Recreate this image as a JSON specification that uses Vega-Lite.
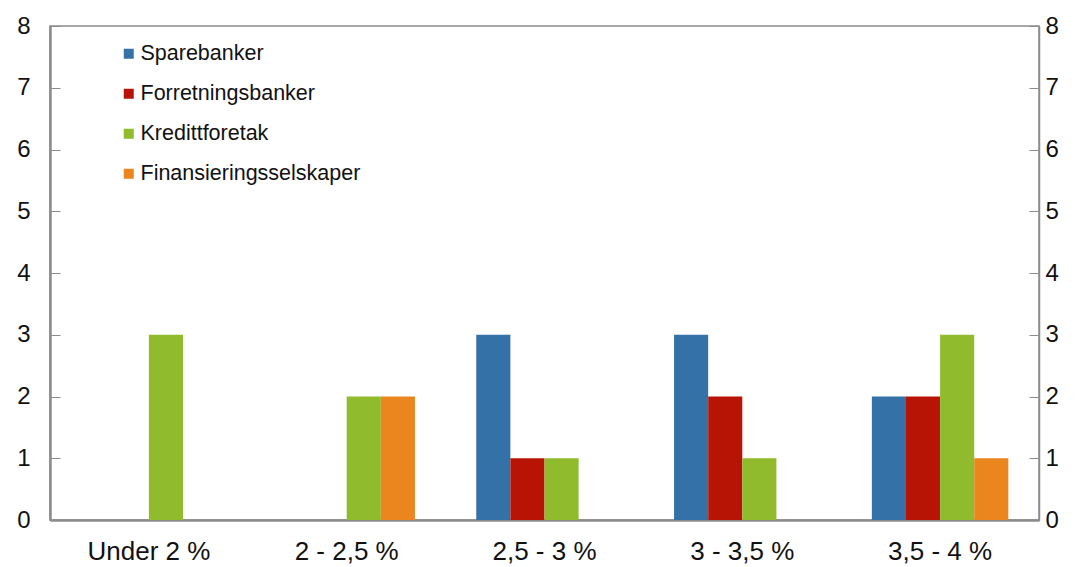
{
  "$schema": "https://vega.github.io/schema/vega-lite/v6.json",
  "width": 989,
  "height": 494,
  "autosize": {"type": "none"},
  "padding": {"left": 50, "top": 26, "right": 41, "bottom": 47},
  "background": "white",
  "config": {
    "font": "Liberation Sans",
    "view": {"stroke": "#8c8c8c", "strokeWidth": 1.5},
    "axis": {"grid": false, "labelFont": "Liberation Sans", "labelColor": "#111111"}
  },
  "data": {
    "values": [
      {"kategori": "Under 2 %", "type": "Sparebanker", "antall": 0},
      {"kategori": "Under 2 %", "type": "Forretningsbanker", "antall": 0},
      {"kategori": "Under 2 %", "type": "Kredittforetak", "antall": 3},
      {"kategori": "Under 2 %", "type": "Finansieringsselskaper", "antall": 0},
      {"kategori": "2 - 2,5 %", "type": "Sparebanker", "antall": 0},
      {"kategori": "2 - 2,5 %", "type": "Forretningsbanker", "antall": 0},
      {"kategori": "2 - 2,5 %", "type": "Kredittforetak", "antall": 2},
      {"kategori": "2 - 2,5 %", "type": "Finansieringsselskaper", "antall": 2},
      {"kategori": "2,5 - 3 %", "type": "Sparebanker", "antall": 3},
      {"kategori": "2,5 - 3 %", "type": "Forretningsbanker", "antall": 1},
      {"kategori": "2,5 - 3 %", "type": "Kredittforetak", "antall": 1},
      {"kategori": "2,5 - 3 %", "type": "Finansieringsselskaper", "antall": 0},
      {"kategori": "3 - 3,5 %", "type": "Sparebanker", "antall": 3},
      {"kategori": "3 - 3,5 %", "type": "Forretningsbanker", "antall": 2},
      {"kategori": "3 - 3,5 %", "type": "Kredittforetak", "antall": 1},
      {"kategori": "3 - 3,5 %", "type": "Finansieringsselskaper", "antall": 0},
      {"kategori": "3,5 - 4 %", "type": "Sparebanker", "antall": 2},
      {"kategori": "3,5 - 4 %", "type": "Forretningsbanker", "antall": 2},
      {"kategori": "3,5 - 4 %", "type": "Kredittforetak", "antall": 3},
      {"kategori": "3,5 - 4 %", "type": "Finansieringsselskaper", "antall": 1}
    ]
  },
  "encoding": {
    "x": {
      "field": "kategori", "type": "nominal", "sort": null,
      "scale": {"paddingInner": 0.31, "paddingOuter": 0.155},
      "axis": {"title": null, "labelAngle": 0, "labelFontSize": 26, "labelPadding": 18, "ticks": false, "domainColor": "#8c8c8c", "domainWidth": 2.5}
    },
    "xOffset": {
      "field": "type", "type": "nominal",
      "scale": {"domain": ["Sparebanker", "Forretningsbanker", "Kredittforetak", "Finansieringsselskaper"]}
    },
    "color": {
      "field": "type", "type": "nominal",
      "scale": {"domain": ["Sparebanker", "Forretningsbanker", "Kredittforetak", "Finansieringsselskaper"], "range": ["#3371a6", "#b81405", "#8fbb2d", "#ea861d"]},
      "legend": {
        "title": null, "orient": "none", "legendX": 68, "legendY": 17,
        "symbolType": "square", "symbolSize": 100, "symbolStrokeWidth": 0,
        "labelFontSize": 21.5, "labelFont": "Liberation Sans", "labelColor": "#111111", "labelLimit": 400,
        "rowPadding": 17, "labelOffset": 1
      }
    }
  },
  "layer": [
    {
      "mark": {"type": "bar"},
      "encoding": {
        "y": {
          "field": "antall", "type": "quantitative",
          "scale": {"domain": [0, 8]},
          "axis": {"title": null, "orient": "left", "values": [0,1,2,3,4,5,6,7,8], "tickSize": -10, "tickColor": "#8c8c8c", "tickWidth": 1, "labelPadding": 30, "labelFontSize": 24, "domainColor": "#8c8c8c", "domainWidth": 2.5}
        }
      }
    },
    {
      "mark": {"type": "bar", "opacity": 0},
      "encoding": {
        "y": {
          "field": "antall", "type": "quantitative",
          "scale": {"domain": [0, 8]},
          "axis": {"title": null, "orient": "right", "values": [0,1,2,3,4,5,6,7,8], "tickSize": -10, "tickColor": "#8c8c8c", "tickWidth": 1, "labelPadding": 16, "labelFontSize": 24, "domainColor": "#8c8c8c", "domainWidth": 1.5}
        }
      }
    }
  ],
  "resolve": {"axis": {"y": "independent"}}
}
